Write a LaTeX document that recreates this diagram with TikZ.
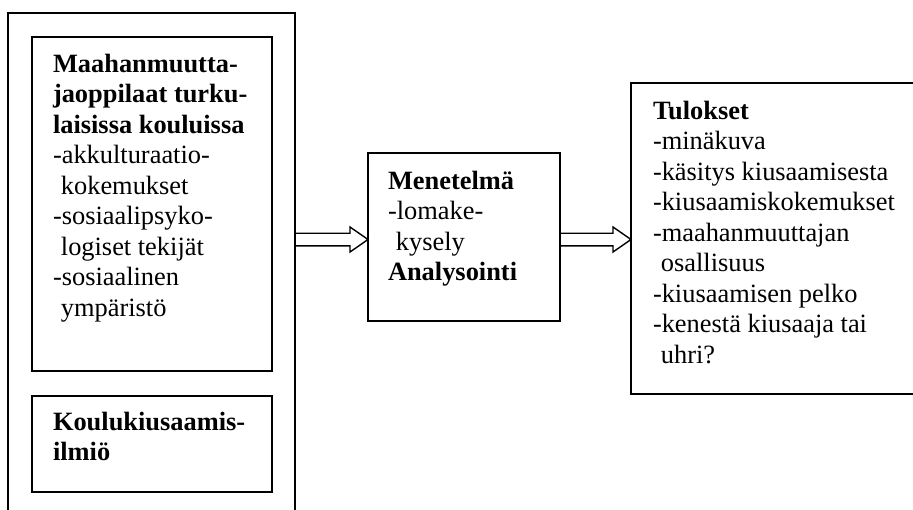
\documentclass[tikz,border=0pt]{standalone}
\usepackage{fontspec}
\setmainfont{Liberation Serif}
\usetikzlibrary{calc}
\newcommand{\ind}{\hspace{0.3em}}
\newcommand{\lines}[1]{\begin{tabular}[t]{@{}l@{}}#1\end{tabular}}
\begin{document}
\begin{tikzpicture}[x=1pt,y=-1pt,
  box/.style={draw, line width=1.8pt, inner sep=0pt, outer sep=0pt, anchor=north west},
  txt/.style={anchor=base west, inner sep=0pt, outer sep=0pt, font=\fontsize{26.4}{30.5}\selectfont},
  blockarrow/.style={draw, line width=1.4pt, line join=miter}]
\useasboundingbox (0,0) rectangle (913,509);
\clip (0,0) rectangle (913,509);
\fill[white] (0,0) rectangle (913,509);
% boxes
\node[box, minimum width=287pt, minimum height=540pt] (outer) at (8,13) {};
\node[box, minimum width=240pt, minimum height=334pt] (inA) at (32,37) {};
\node[box, minimum width=240pt, minimum height=96pt] (inB) at (32,396) {};
\node[box, minimum width=192pt, minimum height=168pt] (mid) at (368,153) {};
\node[box, minimum width=320pt, minimum height=311pt] (res) at (631,83) {};
% texts
\node[txt] (tA) at (53,72) {\lines{\textbf{Maahanmuutta-}\\ \textbf{jaoppilaat turku-}\\ \textbf{laisissa kouluissa}\\ -akkulturaatio-\\ \ind kokemukset\\ -sosiaalipsyko-\\ \ind logiset tekijät\\ -sosiaalinen\\ \ind ympäristö}};
\node[txt] (tB) at (53,430) {\lines{\textbf{Koulukiusaamis-}\\ \textbf{ilmiö}}};
\node[txt] (tM) at (388,189) {\lines{\textbf{Menetelmä}\\ -lomake-\\ \ind kysely\\ \textbf{Analysointi}}};
\node[txt] (tR) at (653,119) {\lines{\textbf{Tulokset}\\ -minäkuva\\ -käsitys kiusaamisesta\\ -kiusaamiskokemukset\\ -maahanmuuttajan\\ \ind osallisuus\\ -kiusaamisen pelko\\ -kenestä kiusaaja tai\\ \ind uhri?}};
% arrows
\coordinate (ay) at (0,239.5);
\coordinate (a1s) at (outer.north east |- ay);
\coordinate (a1t) at (mid.north west |- ay);
\coordinate (a2s) at (mid.north east |- ay);
\coordinate (a2t) at (res.north west |- ay);
\draw[blockarrow] ($(a1s)+(0,-6.3)$) -- ($(a1t)+(-18,-6.3)$) -- ($(a1t)+(-18,-12.5)$) -- (a1t) -- ($(a1t)+(-18,12.5)$) -- ($(a1t)+(-18,6.3)$) -- ($(a1s)+(0,6.3)$);
\draw[blockarrow] ($(a2s)+(0,-6.3)$) -- ($(a2t)+(-18,-6.3)$) -- ($(a2t)+(-18,-12.5)$) -- (a2t) -- ($(a2t)+(-18,12.5)$) -- ($(a2t)+(-18,6.3)$) -- ($(a2s)+(0,6.3)$);
\end{tikzpicture}
\end{document}
